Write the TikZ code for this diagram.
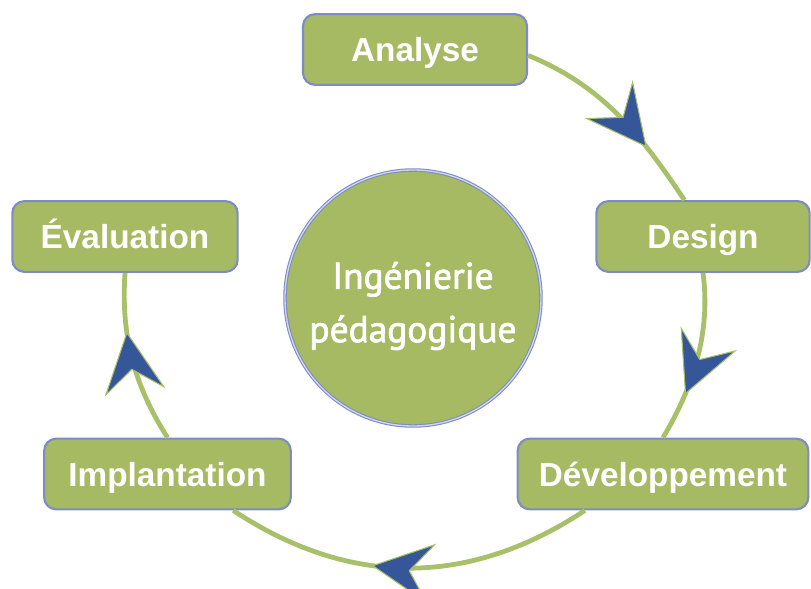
\documentclass[tikz,border=0pt]{standalone}
\usepackage{fontspec}
\setmainfont{Liberation Sans}
\newfontfamily\hubfont[FakeBold=2]{PT Sans}
\usetikzlibrary{arrows.meta}
\usetikzlibrary{decorations.markings}
\definecolor{stagegreen}{HTML}{A6BA63}
\definecolor{linegreen}{HTML}{A9C06A}
\definecolor{edgeblue}{HTML}{7E8BC4}
\definecolor{tipblue}{HTML}{36569A}

\begin{document}
\begin{tikzpicture}[x=0.75pt,y=-0.75pt,
    stage/.style={draw=edgeblue, line width=1.6pt, fill=stagegreen, rounded corners=9pt,
      minimum height=53pt, text height=18pt, text depth=0pt, text=white,
      font=\fontsize{25}{30}\selectfont\bfseries},
    loopline/.style={draw=linegreen, line width=3.6pt, postaction={decorate}},
    tipat/.style={decoration={markings, mark=at position #1 with
      {\arrow{Stealth[length=46pt,width=46pt,inset=17pt,line width=0.8pt,fill=tipblue,color=linegreen]}}}}]
    \useasboundingbox (0,0) rectangle (811,589);

    % Centre
    \node[circle, draw=edgeblue, line width=0.8pt, double=edgeblue!35, double distance=1pt,
      fill=stagegreen, minimum size=192pt, inner sep=0pt] (hub) at (413,298) {};
    \node[align=center, text=white, font=\hubfont\fontsize{28}{40}\selectfont]
      (hubtext) at ([yshift=-6pt]hub.center) {Ingénierie\\pédagogique};

    % Stages
    \node[stage, minimum width=168pt] (ana) at (415,49.5) {Analyse};
    \node[stage, minimum width=160pt] (des) at (703,236.5) {Design};
    \node[stage, minimum width=218pt] (dev) at (663,474) {Développement};
    \node[stage, minimum width=185pt] (imp) at (167.5,474) {Implantation};
    \node[stage, minimum width=169pt] (eva) at (125,236.5) {Évaluation};

    % Cycle
    \path[loopline, tipat=0.7] (ana.357) .. controls +(74,30) and +(-44,-66) .. (des.117);
    \path[loopline, tipat=0.72] (des.south) .. controls +(8,60) and +(30,-50) .. (dev.north);
    \path[loopline, tipat=0.6] (dev.205) .. controls +(-116,77) and +(116,77) .. (imp.331);
    \path[loopline, tipat=0.66] (imp.north) .. controls +(-35,-55) and +(-4,60) .. (eva.south);
\end{tikzpicture}
\end{document}
